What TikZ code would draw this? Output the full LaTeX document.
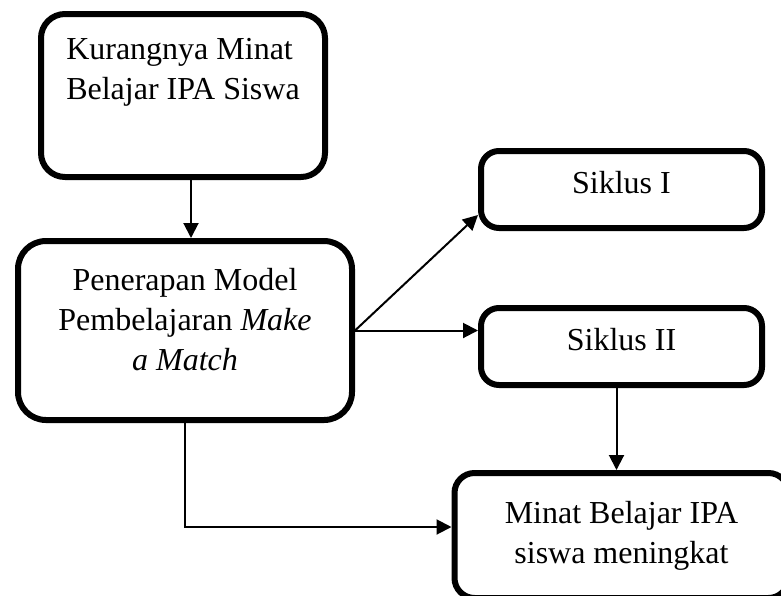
\documentclass[tikz,border=0pt]{standalone}
\usepackage{fontspec}
\setmainfont{Liberation Serif}
\usetikzlibrary{arrows.meta, positioning}

\begin{document}
\begin{tikzpicture}[
  x=1pt, y=-1pt,
  every node/.style={font=\fontsize{32}{40}\selectfont},
  >={Triangle[length=15pt, width=15pt]},
  box/.style={draw, line width=6pt, rounded corners=24pt, fill=white, align=center, inner sep=0pt},
  cycbox/.style={box, rounded corners=18pt, minimum width=281pt, minimum height=77pt, text height=21pt, text depth=14pt},
  arrow/.style={->, line width=2pt}
]
\useasboundingbox (0,0) rectangle (781,595);
% Left column
\node [box, align=left, minimum width=284pt, minimum height=163pt] (masalah) at (183,95.5) {Kurangnya Minat\\Belajar IPA Siswa\\[13pt]\mbox{}};
\node [box, rounded corners=28pt, minimum width=334pt, minimum height=179pt] (model) at (185,330.5) {Penerapan Model\\Pembelajaran \textit{Make}\\\textit{a Match}\\[-18pt]\mbox{}};

% Cycles
\node [cycbox] (siklus1) at (621.5,189.5) {Siklus I};
\node [cycbox, below=74pt of siklus1] (siklus2) {Siklus II};

% Result
\node [box, rounded corners=20pt, minimum width=334pt, minimum height=125pt, below=82pt of siklus2] (hasil) {Minat Belajar IPA\\siswa meningkat};

\draw[arrow] ([xshift=8pt]masalah.south) -- ([xshift=8pt]masalah.south |- model.north);
\draw[arrow] (model.east) -- ([yshift=-25.5pt]siklus1.west);
\draw[arrow] (model.east) -- (model.east -| siklus2.west);
\draw[arrow] ([xshift=-5pt]siklus2.south) -- ([xshift=-5pt]siklus2.south |- hasil.north);
\draw[arrow] (model.south) |- ([yshift=8.5pt]hasil.west);
\end{tikzpicture}
\end{document}
